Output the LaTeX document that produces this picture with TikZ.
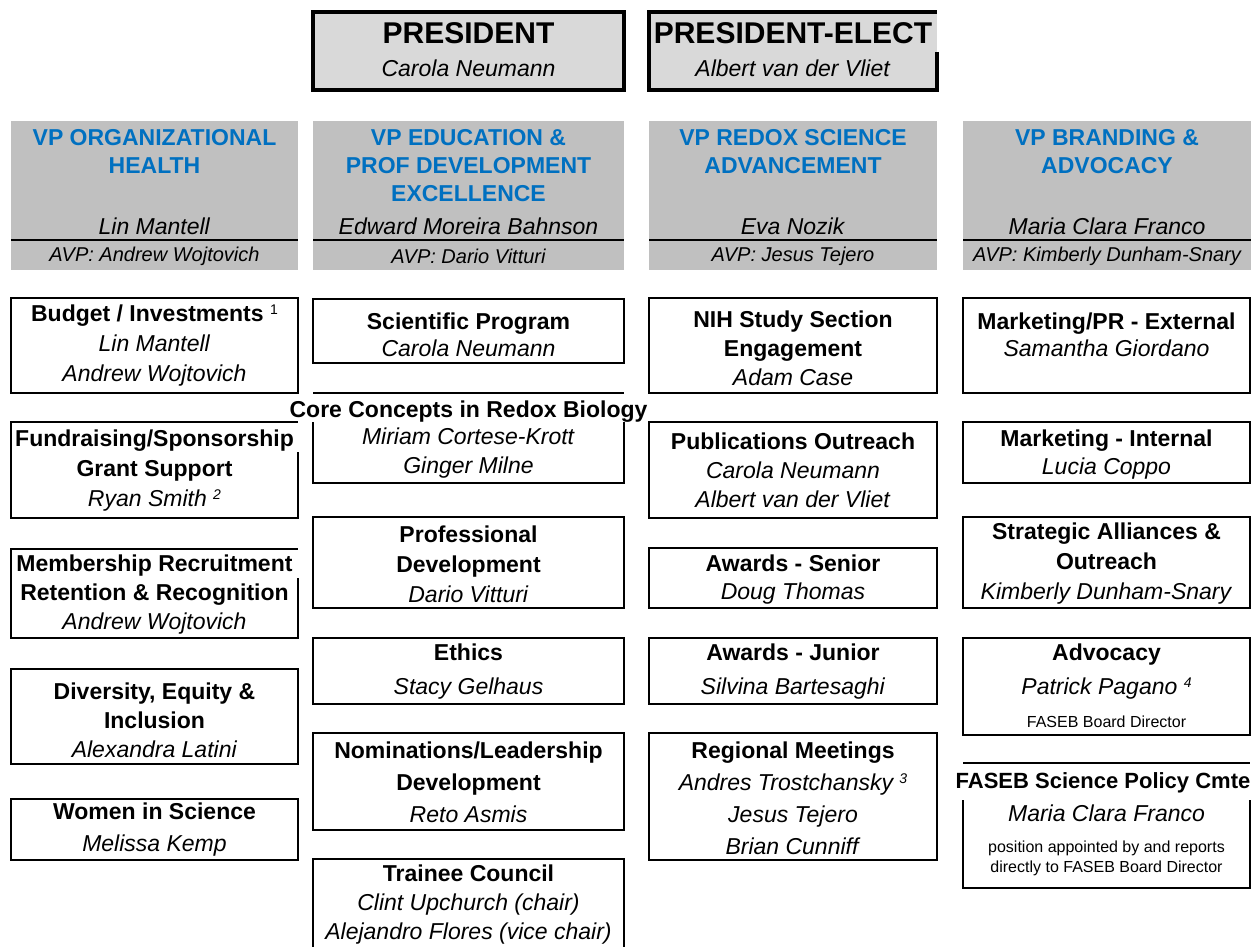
\documentclass[tikz,border=0pt]{standalone}
\usepackage{fontspec}
\setmainfont{Liberation Sans}
\usepackage{tikz}
\usetikzlibrary{calc}
\definecolor{vpblue}{RGB}{0,112,192}
\definecolor{hdgray}{RGB}{192,192,192}
\definecolor{topgray}{RGB}{217,217,217}
\newcommand{\fnum}[1]{\raisebox{7pt}{\fontsize{14}{14}\selectfont #1}}
\tikzset{
  box/.style={line width=1.6pt},
  topbox/.style={line width=4pt},
  cell/.style={align=center, inner sep=0pt, font=\fontsize{23}{#1}\selectfont},
  cell/.default=29,
  small/.style={align=center, inner sep=0pt, font=\fontsize{16}{20}\selectfont},
  vptitle/.style={align=center, inner sep=0pt, text=vpblue, font=\fontsize{23}{28}\selectfont\bfseries},
  avp/.style={inner sep=0pt, font=\fontsize{20}{24}\selectfont\itshape},
  bigtitle/.style={inner sep=0pt, font=\fontsize{30}{36}\selectfont\bfseries}
}

\begin{document}
\begin{tikzpicture}[x=1pt, y=-1pt]
\useasboundingbox (0,0) rectangle (1253,947);
% president and president-elect
\fill[topgray] (313,12) rectangle (624,90);
\draw[topbox] (313,12) rectangle (624,90);
\node[bigtitle] (pres) at (468.5,33) {PRESIDENT};
\node[cell] (presname) at (468.5,68) {\textit{Carola Neumann}};
\fill[topgray] (649,12) rectangle (937,90);
\draw[topbox] (937,52) -- (937,90) -- (649,90) -- (649,12) -- (937,12);
\node[bigtitle] (preselect) at (793,33) {PRESIDENT-ELECT};
\node[cell] (preselectname) at (793,68) {\textit{Albert van der Vliet}};

% vice presidents
\foreach \xa/\xb/\id/\ttl/\who/\avp in {
    11/298/org/{VP ORGANIZATIONAL\\HEALTH}/Lin Mantell/Andrew Wojtovich,
    313/624/edu/{VP EDUCATION \&\\PROF DEVELOPMENT\\EXCELLENCE}/Edward Moreira Bahnson/Dario Vitturi,
    649/937/redox/{VP REDOX SCIENCE\\ADVANCEMENT}/Eva Nozik/Jesus Tejero,
    963/1251/brand/{VP BRANDING \&\\ADVOCACY}/Maria Clara Franco/Kimberly Dunham-Snary}
{
  \fill[hdgray] (\xa,121) rectangle (\xb,270);
  \draw[box] (\xa,240) -- (\xb,240);
  \node[vptitle, anchor=north] (vp\id) at ({(\xa+\xb)/2},129) {\ttl};
  \node[cell] (vp\id-who) at ({(\xa+\xb)/2},226) {\textit{\who}};
  \node[avp] (vp\id-avp) at ({(\xa+\xb)/2},256) {AVP: \avp};
}

% organizational health
\draw[box] (11,298) rectangle (298,393);
\node[cell=30] (budget) at (154.5,346) {\textbf{Budget / Investments} \fnum{1}\\\textit{Lin Mantell}\\\textit{Andrew Wojtovich}};
\draw[box] (298,452) -- (298,518) -- (11,518) -- (11,422) -- (298,422);
\node[cell=30] (fundr) at (154.5,471) {\textbf{Fundraising/Sponsorship}\\\textbf{Grant Support}\\\textit{Ryan Smith \fnum{2}}};
\draw[box] (298,578) -- (298,638) -- (11,638) -- (11,549) -- (298,549);
\node[cell] (member) at (154.5,595) {\textbf{Membership Recruitment}\\\textbf{Retention \& Recognition}\\\textit{Andrew Wojtovich}};
\draw[box] (11,669) rectangle (298,764);
\node[cell] (divers) at (154.5,720) {\textbf{Diversity, Equity \&}\\\textbf{Inclusion}\\\textit{Alexandra Latini}};
\draw[box] (11,799) rectangle (298,860);
\node[cell=32] (women) at (154.5,830) {\textbf{Women in Science}\\\textit{Melissa Kemp}};

% education
\draw[box] (313,299) rectangle (624,363);
\node[cell=27] (sciprog) at (468.5,334.5) {\textbf{Scientific Program}\\\textit{Carola Neumann}};
\draw[box] (313,393) -- (624,393);
\draw[box] (313,422) -- (313,483) -- (624,483) -- (624,422);
\node[cell] (corecc) at (468.5,412) {\textbf{Core Concepts in Redox Biology}};
\node[cell] (corecc-who) at (468.5,453.5) {\textit{Miriam Cortese-Krott}\\\textit{Ginger Milne}};
\draw[box] (313,517) rectangle (624,608);
\node[cell=30] (profdev) at (468.5,564) {\textbf{Professional}\\\textbf{Development}\\\textit{Dario Vitturi}};
\draw[box] (313,638) rectangle (624,704);
\node[cell=34] (ethics) at (468.5,672) {\textbf{Ethics}\\\textit{Stacy Gelhaus}};
\draw[box] (313,733) rectangle (624,830);
\node[cell=32] (nomin) at (468.5,782) {\textbf{Nominations/Leadership}\\\textbf{Development}\\\textit{Reto Asmis}};
\draw[box] (313,950) -- (313,859) -- (624,859) -- (624,950);
\node[cell] (trainee) at (468.5,905) {\textbf{Trainee Council}\\\textit{Clint Upchurch (chair)}\\\textit{Alejandro Flores (vice chair)}};

% redox science
\draw[box] (649,298) rectangle (937,393);
\node[cell] (nih) at (793,348) {\textbf{NIH Study Section}\\\textbf{Engagement}\\\textit{Adam Case}};
\draw[box] (649,422) rectangle (937,518);
\node[cell] (pubout) at (793,470) {\textbf{Publications Outreach}\\\textit{Carola Neumann}\\\textit{Albert van der Vliet}};
\draw[box] (649,548) rectangle (937,608);
\node[cell=28] (awsen) at (793,580) {\textbf{Awards - Senior}\\\textit{Doug Thomas}};
\draw[box] (649,638) rectangle (937,704);
\node[cell=34] (awjun) at (793,672) {\textbf{Awards - Junior}\\\textit{Silvina Bartesaghi}};
\draw[box] (649,733) rectangle (937,860);
\node[cell=32] (regmeet) at (793,798.5) {\textbf{Regional Meetings}\\\textit{Andres Trostchansky \fnum{3}}\\\textit{Jesus Tejero}\\\textit{Brian Cunniff}};

% branding
\draw[box] (963,298) rectangle (1250,393);
\node[cell=27] (mktext) at (1106.5,334.5) {\textbf{Marketing/PR - External}\\\textit{Samantha Giordano}};
\draw[box] (963,422) rectangle (1250,483);
\node[cell=28] (mktint) at (1106.5,455) {\textbf{Marketing - Internal}\\\textit{Lucia Coppo}};
\draw[box] (963,517) rectangle (1250,608);
\node[cell=30] (allian) at (1106.5,564) {\textbf{Strategic Alliances \&}\\\textbf{Outreach}\\\textit{Kimberly Dunham-Snary}};
\draw[box] (963,638) rectangle (1250,735);
\node[cell=34] (advoc) at (1106.5,672) {\textbf{Advocacy}\\\textit{Patrick Pagano \fnum{4}}};
\node[small] (advoc-role) at (1106.5,722) {FASEB Board Director};
\draw[box] (963,763) -- (1250,763);
\draw[box] (963,800) -- (963,888) -- (1250,888) -- (1250,800);
\node[inner sep=0pt, font=\fontsize{22}{26}\selectfont\bfseries] (faseb) at (1103,783) {FASEB Science Policy Cmte};
\node[cell] (faseb-who) at (1106.5,813) {\textit{Maria Clara Franco}};
\node[small] (faseb-note) at (1106.5,858) {position appointed by and reports\\directly to FASEB Board Director};
\end{tikzpicture}
\end{document}
